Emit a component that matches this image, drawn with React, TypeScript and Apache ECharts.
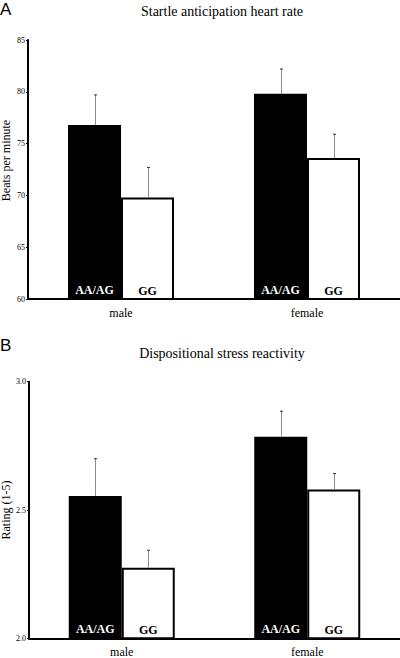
import React, { useEffect, useRef } from "react";
import * as echarts from "echarts";

const categories = ["male", "female"];
const groupNames = ["AA/AG", "GG"];

const hrAAAG = [76.8, 79.8];
const hrAAAGErr = [2.9, 2.4];
const hrGG = [69.8, 73.6];
const hrGGErr = [2.9, 2.3];

const stressAAAG = [2.555, 2.785];
const stressAAAGErr = [0.145, 0.1];
const stressGG = [2.275, 2.58];
const stressGGErr = [0.068, 0.062];

const hrAxis = { min: 60, max: 85, interval: 5 };
const stressAxis = { min: 2.0, max: 3.0, interval: 0.5 };

const SERIF = '"Liberation Serif", "Times New Roman", serif';
const SANS = '"Liberation Sans", Arial, sans-serif';
const BAR_W = 53;

function errSeries(idx: number, means: number[], errs: number[], offset: number) {
  return {
    type: "custom",
    xAxisIndex: idx,
    yAxisIndex: idx,
    z: 10,
    silent: true,
    data: categories.map((_, i) => [i, means[i] + errs[i], means[i]]),
    renderItem: (params: any, api: any) => {
      const ci = api.value(0);
      const top = api.value(1);
      const mean = api.value(2);
      const pB = api.coord([ci, mean]);
      const pT = api.coord([ci, top]);
      const x = Math.round(pB[0] + offset) + 0.5;
      return {
        type: "group",
        children: [
          {
            type: "line",
            shape: { x1: x, y1: pB[1], x2: x, y2: pT[1] },
            style: { stroke: "#8c8c8c", lineWidth: 1 },
          },
          {
            type: "line",
            shape: { x1: x - 1.5, y1: pT[1], x2: x + 1.5, y2: pT[1] },
            style: { stroke: "#333", lineWidth: 1 },
          },
        ],
      };
    },
  };
}

function barSeries(idx: number, name: string, data: number[], black: boolean) {
  return {
    type: "bar",
    name,
    xAxisIndex: idx,
    yAxisIndex: idx,
    data,
    barWidth: BAR_W,
    barGap: "0%",
    itemStyle: black
      ? { color: "#000", borderWidth: 0 }
      : { color: "#fff", borderColor: "#000", borderWidth: 2 },
    label: {
      show: true,
      position: "insideBottom",
      distance: 3,
      formatter: name,
      color: black ? "#fff" : "#000",
      fontWeight: "bold",
      fontFamily: SERIF,
      fontSize: 12,
    },
  };
}

function xAxisDef(idx: number) {
  return {
    type: "category",
    gridIndex: idx,
    data: categories,
    axisLine: { show: true, lineStyle: { color: "#000", width: 2 } },
    axisTick: { show: false },
    axisLabel: { color: "#000", fontFamily: SERIF, fontSize: 12, margin: 8 },
  };
}

function yAxisDef(idx: number, ax: any, name: string, fmt: (v: number) => string, gap: number, pad: number[]) {
  return {
    type: "value",
    gridIndex: idx,
    min: ax.min,
    max: ax.max,
    interval: ax.interval,
    name,
    nameLocation: "middle",
    nameGap: gap,
    nameMoveOverlap: false,
    nameTextStyle: { color: "#000", fontFamily: SERIF, fontSize: 12, padding: pad },
    splitLine: { show: false },
    axisLine: { show: true, lineStyle: { color: "#000", width: 2 } },
    axisTick: { show: true, length: 2, lineStyle: { color: "#000", width: 1 } },
    axisLabel: { color: "#000", fontFamily: SERIF, fontSize: 8, margin: 3, formatter: fmt },
  };
}

export default function App() {
  const ref = useRef<HTMLDivElement>(null);
  useEffect(() => {
    document.body.style.margin = "0";
    const chart = echarts.init(ref.current!, null, { renderer: "svg" });
    chart.setOption({
      animation: false,
      backgroundColor: "#fff",
      grid: [
        { left: 28, right: 0, top: 40, bottom: 359, outerBoundsMode: "none", containLabel: false },
        { left: 29, right: 0, top: 381.7, bottom: 19.7, outerBoundsMode: "none", containLabel: false },
      ],
      xAxis: [xAxisDef(0), xAxisDef(1)],
      yAxis: [
        yAxisDef(0, hrAxis, "Beats per minute", (v: number) => String(v), 16, [0, 0, 0, 18]),
        yAxisDef(1, stressAxis, "Rating (1-5)", (v: number) => v.toFixed(1), 17, [0, 0, 0, 0]),
      ],
      graphic: [
        { type: "text", x: 0, y: 1, style: { text: "A", fontFamily: SANS, fontSize: 17, fill: "#000" } },
        { type: "text", x: 222, y: 11, style: { text: "Startle anticipation heart rate", fontFamily: SERIF, fontSize: 14, fill: "#000", align: "center", verticalAlign: "middle" } },
        { type: "text", x: 0, y: 337, style: { text: "B", fontFamily: SANS, fontSize: 17, fill: "#000" } },
        { type: "text", x: 222, y: 353, style: { text: "Dispositional stress reactivity", fontFamily: SERIF, fontSize: 14, fill: "#000", align: "center", verticalAlign: "middle" } },
      ],
      series: [
        barSeries(0, groupNames[0], hrAAAG, true),
        barSeries(0, groupNames[1], hrGG, false),
        errSeries(0, hrAAAG, hrAAAGErr, -BAR_W / 2),
        errSeries(0, hrGG, hrGGErr, BAR_W / 2),
        barSeries(1, groupNames[0], stressAAAG, true),
        barSeries(1, groupNames[1], stressGG, false),
        errSeries(1, stressAAAG, stressAAAGErr, -BAR_W / 2),
        errSeries(1, stressGG, stressGGErr, BAR_W / 2),
      ],
    });
    return () => chart.dispose();
  }, []);
  return <div ref={ref} style={{ position: "absolute", left: 0, top: 0, width: 400, height: 658 }} />;
}
